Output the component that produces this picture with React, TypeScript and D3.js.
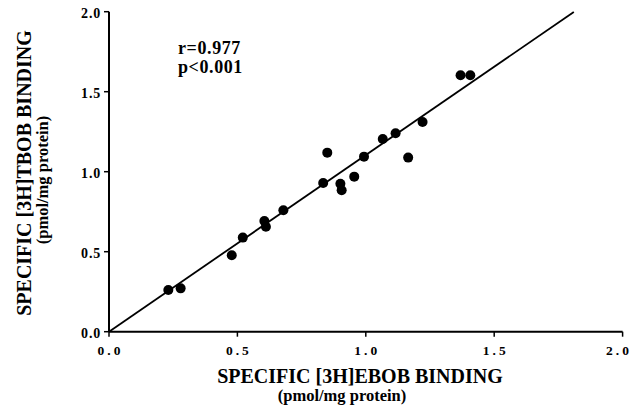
import * as d3 from "d3";

const EBOB = [0.231, 0.279, 0.478, 0.521, 0.605, 0.611, 0.679, 0.834, 0.85, 0.901, 0.906, 0.955, 0.993, 1.066, 1.116, 1.165, 1.221, 1.369, 1.407];
const TBOB = [0.261, 0.271, 0.478, 0.588, 0.692, 0.656, 0.759, 0.929, 1.119, 0.925, 0.884, 0.969, 1.094, 1.204, 1.24, 1.088, 1.311, 1.603, 1.603];
const TICKS = [0, 0.5, 1.0, 1.5, 2.0];
const FIT_SLOPE = 1.104;
const FIT_END = 1.81;

const WIDTH = 635;
const HEIGHT = 408;
const FONT = "'Liberation Serif', 'Times New Roman', serif";

export default function App() {
  const x = d3.scaleLinear().domain([0, 2]).range([109, 622.6]);
  const y = d3.scaleLinear().domain([0, 2]).range([331.7, 11.7]);

  const fit = d3
    .line<number>()
    .x((d) => x(d))
    .y((d) => y(d * FIT_SLOPE));

  return (
    <svg
      width={WIDTH}
      height={HEIGHT}
      style={{ position: "absolute", left: 0, top: 0, background: "#fff" }}
      fontFamily={FONT}
      fontWeight="bold"
    >
      {/* axes */}
      <line x1={x(0)} x2={x(2)} y1={y(0)} y2={y(0)} stroke="#000" strokeWidth={2} />
      <line x1={x(0)} x2={x(0)} y1={y(0)} y2={y(2)} stroke="#000" strokeWidth={2} />

      {TICKS.map((t) => (
        <g key={`x${t}`}>
          <line x1={x(t)} x2={x(t)} y1={y(0)} y2={y(0) + 5} stroke="#000" strokeWidth={1.5} />
          <text
            x={Math.min(x(t) + 1.5, WIDTH - 16)}
            y={355}
            textAnchor="middle"
            fontSize={13.5}
            letterSpacing={3}
          >
            {t.toFixed(1)}
          </text>
        </g>
      ))}
      {TICKS.map((t) => (
        <g key={`y${t}`}>
          <line x1={x(0) - 5} x2={x(0)} y1={y(t)} y2={y(t)} stroke="#000" strokeWidth={1.5} />
          <text x={101} y={y(t) + 6} textAnchor="end" fontSize={14} letterSpacing={0.8}>
            {t.toFixed(1)}
          </text>
        </g>
      ))}

      {/* regression line */}
      <path d={fit([0, FIT_END]) ?? ""} fill="none" stroke="#000" strokeWidth={1.8} />

      {EBOB.map((v, i) => (
        <circle key={i} cx={x(v)} cy={y(TBOB[i])} r={5} fill="#000" />
      ))}

      <text x={178} y={54} fontSize={18} letterSpacing={0.6}>r=0.977</text>
      <text x={178} y={73} fontSize={18} letterSpacing={0.6}>p&lt;0.001</text>

      {/* x title */}
      <text x={360} y={383} textAnchor="middle" fontSize={20}>
        SPECIFIC [3H]EBOB BINDING
      </text>
      <text x={342} y={401} textAnchor="middle" fontSize={16.5}>
        (pmol/mg protein)
      </text>

      {/* y title */}
      <text transform="translate(31,173) rotate(-90)" textAnchor="middle" fontSize={20}>
        SPECIFIC [3H]TBOB BINDING
      </text>
      <text transform="translate(48,180) rotate(-90)" textAnchor="middle" fontSize={16.5}>
        (pmol/mg protein)
      </text>
    </svg>
  );
}
